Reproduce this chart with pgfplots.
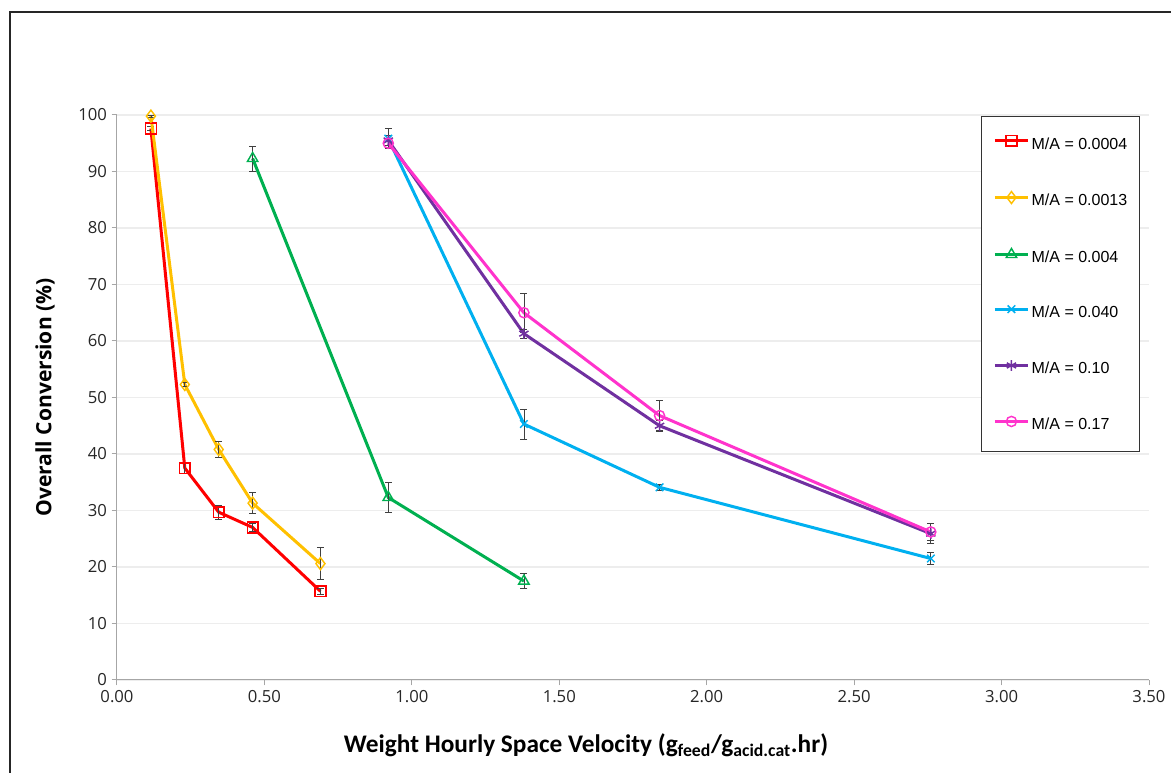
\documentclass[border=0pt]{standalone}
\usepackage{fontspec}
\setmainfont{Carlito}
\newfontfamily\legfont{Liberation Sans}
\newfontfamily\tickfont{Open Sans}
\usepackage{pgfplots}
\pgfplotsset{compat=1.18}
\definecolor{cRed}{HTML}{FF0000}
\definecolor{cGold}{HTML}{FFC000}
\definecolor{cGreen}{HTML}{00B050}
\definecolor{cCyan}{HTML}{00B0F0}
\definecolor{cPurple}{HTML}{7030A0}
\definecolor{cPink}{HTML}{FF33CC}
\definecolor{axgray}{HTML}{A6A6A6}
\pgfplotsset{
  eb/.style={error bars/.cd, y dir=both, y explicit,
    error bar style={black!75, line width=0.6pt},
    error mark options={black!75, line width=0.6pt, mark size=2.6pt, rotate=90}},
  ser/.style={color=#1, line width=2.25pt, mark options={solid, line width=1.1pt, draw=#1}},
}
\begin{document}
\begin{tikzpicture}
\useasboundingbox (-87.75pt,-69.75pt) rectangle (790.5pt,510pt);
\draw[line width=1.5pt, black!85] (-80.25pt,-90pt) -- (-80.25pt,501pt) -- (810pt,501pt);
\begin{axis}[at={(0,0)}, anchor=south west, scale only axis,
  width=774pt, height=423.75pt,
  xmin=0, xmax=3.5, ymin=0, ymax=100,
  xtick={0,0.5,1,1.5,2,2.5,3,3.5}, ytick={0,10,...,100},
  axis x line*=bottom, axis y line*=left,
  axis line style={draw=axgray, line width=0.75pt},
  tick style={draw=axgray, line width=0.75pt},
  tick align=outside, major tick length=4pt,
  ymajorgrids, grid style={draw=black!7, line width=0.9pt},
  xticklabel style={/pgf/number format/.cd, fixed, fixed zerofill, precision=2, assume math mode=true},
  yticklabel style={/pgf/number format/assume math mode=true},
  tick label style={font=\tickfont\fontsize{12.5}{14}\selectfont, color=black!85},
  xlabel={Weight Hourly Space Velocity (g\textsubscript{feed}/g\textsubscript{acid.cat}.hr)},
  ylabel={Overall Conversion (\%)},
  xlabel style={at={(axis description cs:0.4545,-0.115)}, anchor=center, font=\bfseries\fontsize{19}{21}\selectfont},
  ylabel style={at={(axis description cs:-0.0698,0.5)}, anchor=center, font=\tickfont\bfseries\fontsize{15.8}{18}\selectfont},
  clip=false,
  legend style={at={(0.837,0.998)}, anchor=north west, draw=black!80, line width=0.75pt,
    font=\legfont\fontsize{12}{14}\selectfont, row sep=29.5pt, inner xsep=9pt, inner ysep=14pt,
    nodes={inner sep=0pt, text height=8.6pt, text depth=2.4pt},
    /tikz/every odd column/.append style={column sep=1.5pt}},
  legend cell align=left,
  legend image code/.code={\draw[mark repeat=2,mark phase=2] plot coordinates {(0pt,3.2pt)(12.5pt,3.2pt)(25pt,3.2pt)};},
]
\addplot[ser=cRed, mark=square, mark size=4pt, eb] coordinates {
  (0.115,97.6) +- (0,0.3)
  (0.23,37.5) +- (0,1.0)
  (0.345,29.7) +- (0,1.2)
  (0.46,27.0) +- (0,0.7)
  (0.69,15.7) +- (0,0.5)
};
\addplot[ser=cGold, mark=diamond, mark size=4.5pt, eb] coordinates {
  (0.115,99.8) +- (0,0.2)
  (0.23,52.3) +- (0,0.3)
  (0.345,40.8) +- (0,1.4)
  (0.46,31.3) +- (0,1.9)
  (0.69,20.6) +- (0,2.8)
};
\addplot[ser=cGreen, mark=triangle, mark size=4.5pt, eb] coordinates {
  (0.46,92.3) +- (0,2.2)
  (0.92,32.3) +- (0,2.65)
  (1.38,17.5) +- (0,1.3)
};
\addplot[ser=cCyan, mark=x, mark size=4pt, eb] coordinates {
  (0.92,95.8) +- (0,1.8)
  (1.38,45.3) +- (0,2.65)
  (1.84,34.1) +- (0,0.5)
  (2.76,21.5) +- (0,1.0)
};
\addplot[ser=cPurple, mark=asterisk, mark size=4pt, eb] coordinates {
  (0.92,95.5) +- (0,0.8)
  (1.38,61.3) +- (0,0.8)
  (1.84,45.0) +- (0,1.0)
  (2.76,25.9) +- (0,1.8)
};
\addplot[ser=cPink, mark=o, mark size=3.8pt, eb] coordinates {
  (0.92,95.0) +- (0,0.7)
  (1.38,65.0) +- (0,3.5)
  (1.84,46.8) +- (0,2.7)
  (2.76,26.2) +- (0,1.5)
};
\legend{M/A = 0.0004, M/A = 0.0013, M/A = 0.004, M/A = 0.040, M/A = 0.10, M/A = 0.17}
\end{axis}
\end{tikzpicture}
\end{document}
